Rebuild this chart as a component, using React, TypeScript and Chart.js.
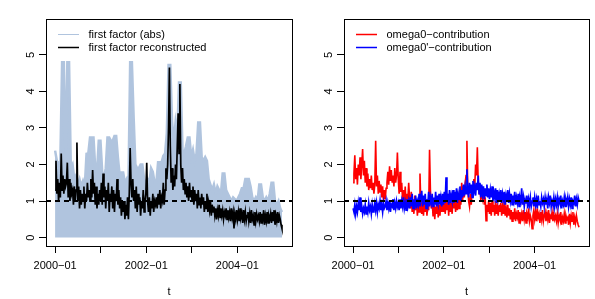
import React, { useEffect, useRef } from "react";
import { Chart, registerables } from "chart.js";

Chart.register(...registerables);

// ---- axes ----
const tickYears = [2000, 2001, 2002, 2003, 2004];
const tickYearLabels = ["2000−01", "", "2002−01", "", "2004−01"];
const yTickValues = [0, 1, 2, 3, 4, 5];
const refLevel = 1;

// ---- left panel: first factor (abs), biweekly envelope ----
const firstFactorAbs = [
  2.38, 2.1, 2.0, 2.1, 4.8, 4.8, 2.0, 4.8, 4.8, 1.9, 2.0, 1.6, 1.7,
  1.45, 1.6, 1.4, 1.55, 1.4, 2.29, 2.3, 2.74, 2.74, 2.74, 1.9, 1.8, 2.65,
  2.65, 1.8, 1.6, 1.9, 2.74, 2.74, 2.65, 2.65, 2.78, 2.78, 2.19, 1.7, 1.78,
  1.78, 1.5, 1.6, 1.4, 4.8, 4.8, 3.3, 2.0, 1.9, 1.9, 2.0, 2.0, 1.6,
  1.5, 1.6, 1.5, 1.9, 1.8, 1.5, 1.5, 2.06, 2.06, 2.06, 2.24, 2.3, 2.85,
  4.72, 4.72, 3.2, 2.6, 3.15, 2.8, 4.24, 4.24, 2.4, 2.3, 2.5, 2.74, 2.74,
  2.2, 2.4, 2.1, 2.3, 3.15, 3.15, 2.2, 2.1, 2.2, 2.1, 1.6, 1.45, 1.3,
  1.45, 1.2, 1.4, 1.3, 1.2, 1.75, 1.75, 1.3, 1.2, 1.1, 1.0, 1.1, 1.05,
  1.0, 1.1, 1.2, 1.35, 1.35, 1.6, 1.6, 1.6, 1.4, 1.1, 1.0, 1.1, 1.0,
  1.45, 1.45, 1.1, 1.0, 1.1, 1.0, 1.2, 1.5, 1.5, 1.0, 0.9, 1.0, 0.8, 0.7,
];

// ---- left panel: first factor reconstructed, weekly ----
const firstFactorRec = [
  1.3, 2.1, 1.2, 1.6, 1.0, 1.5, 1.1, 2.3, 1.3, 1.7, 1.2, 1.6, 1.4,
  1.5, 2.05, 1.1, 1.6, 1.0, 1.5, 1.2, 1.3, 0.9, 1.4, 1.0, 1.3, 2.6,
  1.0, 1.4, 0.8, 1.3, 0.9, 1.2, 1.0, 1.4, 0.8, 1.2, 1.0, 1.5, 1.1,
  1.3, 1.0, 1.6, 1.1, 1.85, 1.2, 1.5, 0.9, 1.4, 0.8, 1.2, 0.9, 1.3,
  1.0, 1.5, 0.9, 1.75, 1.1, 1.4, 0.8, 1.3, 1.0, 1.5, 0.7, 1.2, 1.0,
  1.4, 0.8, 1.3, 0.7, 1.2, 1.0, 1.6, 0.9, 1.3, 0.8, 1.1, 0.6, 1.0,
  0.7, 1.0, 0.5, 0.9, 0.6, 1.1, 0.5, 1.2, 2.45, 1.5, 1.1, 1.6, 1.0,
  1.3, 0.8, 1.4, 0.7, 1.2, 0.9, 1.1, 0.6, 1.0, 0.8, 1.3, 0.7, 1.0,
  1.2, 2.05, 1.0, 0.7, 1.1, 0.6, 1.0, 0.8, 1.2, 0.7, 1.0, 0.9, 1.1,
  0.8, 1.2, 0.9, 1.3, 0.8, 1.1, 1.0, 1.5, 0.9, 1.3, 1.9, 1.6, 2.0,
  3.0, 4.65, 2.5, 1.5, 1.9, 1.3, 1.7, 1.4, 2.0, 1.6, 2.5, 3.4, 2.3,
  4.2, 2.0, 1.5, 1.9, 1.3, 1.6, 1.2, 1.5, 1.1, 1.4, 1.0, 1.5, 1.1,
  1.3, 1.0, 1.4, 0.9, 1.3, 1.0, 1.2, 0.8, 1.3, 0.9, 1.1, 0.8, 1.2,
  0.9, 1.1, 0.7, 1.0, 0.8, 1.2, 0.7, 0.95, 0.75, 1.0, 0.6, 0.9, 0.7,
  0.85, 0.6, 0.8, 0.5, 0.75, 0.6, 0.9, 0.55, 0.8, 0.6, 0.75, 0.5, 0.7,
  0.6, 0.8, 0.5, 0.75, 0.55, 0.7, 0.45, 0.8, 0.55, 0.7, 0.25, 0.65, 0.5,
  0.75, 0.5, 0.7, 0.45, 0.8, 0.55, 0.65, 0.4, 0.75, 0.5, 0.7, 0.45, 0.6,
  0.7, 0.45, 0.65, 0.4, 0.75, 0.5, 0.6, 0.35, 0.7, 0.45, 0.65, 0.5, 0.6,
  0.45, 0.7, 0.4, 0.65, 0.5, 0.75, 0.35, 0.6, 0.45, 0.7, 0.4, 0.6, 0.5,
  0.65, 0.4, 0.7, 0.45, 0.75, 0.35, 0.6, 0.45, 0.7, 0.4, 0.6, 0.5, 0.35, 0.25,
];

// ---- right panel: omega0-contribution, weekly ----
const omega0Contribution = [
  1.5, 1.75, 2.25, 1.6, 1.9, 1.45, 2.0, 1.7, 2.2, 1.6, 2.0, 2.42, 1.7,
  2.1, 1.5, 1.9, 1.4, 1.75, 1.3, 1.6, 1.35, 1.7, 1.3, 1.5, 1.2, 1.45,
  2.65, 1.4, 1.7, 1.2, 1.55, 1.25, 1.45, 1.1, 1.4, 1.0, 1.3, 1.05, 1.35,
  1.5, 1.8, 1.45, 1.95, 1.55, 1.85, 1.5, 1.7, 1.4, 1.9, 1.5, 1.7, 2.33,
  1.6, 1.2, 1.8, 1.25, 1.5, 1.0, 1.3, 0.9, 1.4, 0.85, 1.2, 1.0, 1.5,
  1.1, 0.8, 1.25, 0.7, 1.0, 0.65, 1.15, 0.75, 1.0, 0.6, 0.9, 0.7, 1.75,
  0.9, 0.65, 1.0, 0.6, 0.95, 0.7, 1.05, 0.6, 0.9, 0.75, 2.4, 1.3, 0.8,
  1.0, 0.6, 0.9, 0.5, 0.85, 0.65, 1.0, 0.55, 0.9, 0.6, 1.05, 0.7, 0.95,
  0.7, 1.15, 0.65, 1.0, 0.75, 1.2, 0.6, 1.05, 0.7, 0.95, 0.65, 1.1, 0.8,
  1.0, 0.7, 1.2, 0.75, 1.1, 0.8, 1.3, 0.9, 1.5, 1.0, 1.4, 1.1, 1.5,
  1.7, 2.65, 1.3, 1.0, 0.85, 1.2, 0.9, 1.3, 1.1, 1.6, 1.4, 2.0, 1.7,
  2.47, 1.5, 1.2, 1.45, 1.0, 1.35, 1.1, 1.3, 0.9, 1.1, 0.46, 0.9, 0.7,
  1.0, 0.65, 0.95, 0.6, 1.0, 0.7, 0.9, 0.6, 1.0, 0.65, 0.85, 0.6, 0.9,
  0.7, 0.95, 0.6, 0.85, 0.65, 1.0, 0.6, 0.8, 0.55, 0.9, 0.6, 0.8, 0.5,
  0.75, 0.45, 0.7, 0.5, 0.8, 0.45, 0.65, 0.55, 0.75, 0.4, 0.7, 0.5, 0.65,
  0.45, 0.75, 0.5, 0.7, 0.4, 0.65, 0.55, 0.8, 0.45, 0.6, 0.5, 0.24, 0.6,
  0.75, 0.5, 0.7, 0.45, 0.8, 0.55, 0.65, 0.4, 0.7, 0.5, 0.75, 0.45, 0.6,
  0.7, 0.45, 0.65, 0.5, 0.75, 0.4, 0.6, 0.55, 0.7, 0.45, 0.65, 0.5, 0.6,
  0.45, 0.65, 0.4, 0.6, 0.5, 0.7, 0.35, 0.55, 0.45, 0.65, 0.4, 0.6, 0.5,
  0.55, 0.35, 0.65, 0.4, 0.6, 0.45, 0.7, 0.35, 0.55, 0.4, 0.6, 0.45, 0.35, 0.28,
];

// ---- right panel: omega0'-contribution, weekly ----
const omega0PrimeContribution = [
  0.8, 0.7, 0.9, 0.65, 0.85, 0.7, 0.95, 0.75, 1.1, 0.7, 0.85, 0.65, 0.8,
  0.7, 0.9, 0.65, 0.85, 0.7, 0.95, 0.75, 0.85, 0.65, 0.9, 0.7, 0.8, 0.95,
  0.75, 0.95, 0.7, 0.9, 0.8, 1.0, 0.75, 0.9, 0.7, 0.95, 0.8, 0.85, 1.0,
  0.75, 0.95, 0.8, 1.0, 0.7, 0.9, 0.85, 1.05, 0.75, 0.95, 0.8, 1.0, 0.85,
  0.95, 0.75, 1.05, 0.8, 1.0, 0.85, 1.1, 0.8, 0.95, 0.75, 1.05, 0.85, 1.0,
  0.8, 1.1, 0.85, 1.2, 0.8, 1.05, 0.9, 1.15, 0.8, 1.0, 0.9, 1.2, 0.85,
  1.1, 1.28, 0.85, 1.15, 0.9, 1.2, 0.8, 1.05, 0.9, 1.25, 0.85, 1.1, 0.95,
  1.2, 0.85, 1.1, 0.9, 1.25, 0.85, 1.15, 0.95, 1.2, 0.9, 1.1, 0.85, 1.2,
  0.9, 1.25, 0.95, 1.65, 1.0, 1.2, 0.9, 1.3, 0.95, 1.15, 1.0, 1.3, 0.95,
  1.25, 1.0, 1.35, 0.95, 1.2, 1.05, 1.4, 1.0, 1.3, 1.1, 1.45, 1.15, 1.4,
  1.2, 1.87, 1.3, 1.1, 1.5, 1.2, 1.45, 1.1, 1.55, 1.25, 1.4, 1.15, 1.5,
  1.3, 1.7, 1.2, 1.5, 1.1, 1.45, 1.2, 1.4, 1.05, 1.35, 1.15, 1.45, 1.1,
  1.35, 1.05, 1.3, 1.1, 1.4, 1.0, 1.25, 1.1, 1.35, 0.95, 1.3, 1.05, 1.2,
  1.0, 1.3, 0.95, 1.2, 1.05, 1.25, 0.9, 1.15, 1.0, 1.3, 0.95, 1.2, 1.0,
  1.2, 0.9, 1.15, 1.0, 1.25, 0.9, 1.1, 0.95, 1.2, 0.85, 1.1, 1.0, 1.35,
  0.9, 1.1, 0.85, 1.05, 0.95, 1.15, 0.8, 1.05, 0.9, 1.1, 0.85, 1.0, 1.1,
  0.85, 1.1, 0.9, 1.05, 0.8, 1.15, 0.9, 1.0, 0.85, 1.1, 0.95, 1.05, 0.85,
  1.1, 0.9, 1.05, 0.8, 1.1, 0.95, 1.15, 0.85, 1.0, 0.9, 1.1, 0.85, 1.05,
  0.9, 1.1, 0.85, 1.05, 0.95, 1.15, 0.8, 1.0, 0.9, 1.1, 0.85, 1.05, 0.95,
  1.1, 0.85, 1.05, 0.9, 1.1, 0.8, 1.0, 0.95, 1.15, 0.85, 1.05, 0.9, 1.1, 1.0,
];

const SERIES_START = 2000.0;
const SERIES_END = 2004.98;
const X_MIN = 1999.8;
const X_MAX = 2005.2;
const Y_MIN = -0.23;
const Y_MAX = 5.98;

const FONT = "'Liberation Sans', Arial, Helvetica, sans-serif";

function toPoints(vals: number[]) {
  const n = vals.length;
  return vals.map((v, i) => ({
    x: SERIES_START + (i * (SERIES_END - SERIES_START)) / (n - 1),
    y: v,
  }));
}

type LegendItem = { label: string; color: string; width: number };

function makeFramePlugin(items: LegendItem[]) {
  return {
    id: "frameAndLegend",
    afterDatasetsDraw(chart: any) {
      const { ctx, chartArea: a, scales } = chart;
      // dashed reference line at 1
      const yRef = scales.y.getPixelForValue(refLevel);
      ctx.save();
      ctx.beginPath();
      ctx.rect(a.left, a.top, a.right - a.left, a.bottom - a.top);
      ctx.clip();
      ctx.setLineDash([5, 4]);
      ctx.lineWidth = 2;
      ctx.strokeStyle = "#000";
      ctx.beginPath();
      ctx.moveTo(a.left, yRef);
      ctx.lineTo(a.right, yRef);
      ctx.stroke();
      ctx.restore();

      // box
      ctx.save();
      ctx.strokeStyle = "#000";
      ctx.lineWidth = 1;
      ctx.strokeRect(a.left + 0.5, a.top + 0.5, a.right - a.left, a.bottom - a.top);
      ctx.restore();

      // legend (no frame)
      ctx.save();
      ctx.font = `11px ${FONT}`;
      ctx.textBaseline = "middle";
      ctx.textAlign = "left";
      items.forEach((it, k) => {
        const y = a.top + 15.5 + k * 13;
        ctx.strokeStyle = it.color;
        ctx.lineWidth = it.width;
        ctx.beginPath();
        ctx.moveTo(a.left + 12, y);
        ctx.lineTo(a.left + 33, y);
        ctx.stroke();
        ctx.fillStyle = "#000";
        ctx.fillText(it.label, a.left + 42.5, y);
      });
      ctx.restore();
    },
  };
}

function makeOptions(yAxisWidth: number, padRight: number): any {
  return {
    responsive: false,
    animation: false,
    devicePixelRatio: 1,
    events: [],
    layout: { padding: { left: 0, top: 19, right: padRight, bottom: 0 } },
    plugins: {
      legend: { display: false },
      tooltip: { enabled: false },
      title: { display: false },
    },
    elements: { point: { radius: 0 }, line: { tension: 0 } },
    scales: {
      x: {
        type: "linear",
        min: X_MIN,
        max: X_MAX,
        afterBuildTicks: (s: any) => {
          s.ticks = tickYears.map((v) => ({ value: v }));
        },
        afterFit: (s: any) => {
          s.height = 53;
        },
        grid: {
          drawOnChartArea: false,
          drawTicks: true,
          tickLength: 7,
          color: "#000",
          lineWidth: 1,
        },
        border: { display: false },
        ticks: {
          autoSkip: false,
          minRotation: 0,
          maxRotation: 0,
          padding: 6,
          color: "#000",
          font: { family: FONT, size: 11 },
          callback: (v: number) => {
            const idx = tickYears.indexOf(Math.round(v));
            return idx >= 0 ? tickYearLabels[idx] : "";
          },
        },
        title: {
          display: true,
          text: "t",
          color: "#000",
          font: { family: FONT, size: 11 },
          padding: { top: 0, bottom: 0 },
        },
      },
      y: {
        type: "linear",
        min: Y_MIN,
        max: Y_MAX,
        afterBuildTicks: (s: any) => {
          s.ticks = yTickValues.map((v) => ({ value: v }));
        },
        afterFit: (s: any) => {
          s.width = yAxisWidth;
        },
        grid: {
          drawOnChartArea: false,
          drawTicks: true,
          tickLength: 7,
          color: "#000",
          lineWidth: 1,
        },
        border: { display: false },
        ticks: {
          autoSkip: false,
          minRotation: 90,
          maxRotation: 90,
          crossAlign: "center",
          padding: 5,
          color: "#000",
          font: { family: FONT, size: 11 },
          callback: (v: number) => String(v),
        },
      },
    },
  };
}

function Panel(props: {
  left: number;
  width: number;
  yAxisWidth: number;
  padRight: number;
  datasets: any[];
  legend: LegendItem[];
}) {
  const ref = useRef<HTMLCanvasElement | null>(null);
  useEffect(() => {
    if (!ref.current) return;
    const chart = new Chart(ref.current, {
      type: "line",
      data: { datasets: props.datasets },
      options: makeOptions(props.yAxisWidth, props.padRight),
      plugins: [makeFramePlugin(props.legend)],
    });
    return () => chart.destroy();
  }, []);
  return (
    <canvas
      ref={ref}
      width={props.width}
      height={299}
      style={{ position: "absolute", left: props.left, top: 0, width: props.width, height: 299 }}
    />
  );
}

export default function App() {
  const leftDatasets = [
    {
      label: "first factor reconstructed",
      data: toPoints(firstFactorRec),
      borderColor: "#000000",
      borderWidth: 1.7,
      pointRadius: 0,
      fill: false,
    },
    {
      label: "first factor (abs)",
      data: toPoints(firstFactorAbs),
      borderColor: "#B0C4DE",
      backgroundColor: "#B0C4DE",
      borderWidth: 2.5,
      pointRadius: 0,
      fill: "origin",
    },
  ];
  const rightDatasets = [
    {
      label: "omega0'−contribution",
      data: toPoints(omega0PrimeContribution),
      borderColor: "#0000FF",
      borderWidth: 1.7,
      pointRadius: 0,
      fill: false,
    },
    {
      label: "omega0−contribution",
      data: toPoints(omega0Contribution),
      borderColor: "#FF0000",
      borderWidth: 1.6,
      pointRadius: 0,
      fill: false,
    },
  ];
  return (
    <div style={{ position: "absolute", left: 0, top: 0, width: 595, height: 299, background: "#fff" }}>
      <Panel
        left={0}
        width={297}
        yAxisWidth={46}
        padRight={5}
        datasets={leftDatasets}
        legend={[
          { label: "first factor (abs)", color: "#B0C4DE", width: 1 },
          { label: "first factor reconstructed", color: "#000000", width: 1.5 },
        ]}
      />
      <Panel
        left={297}
        width={298}
        yAxisWidth={47}
        padRight={6}
        datasets={rightDatasets}
        legend={[
          { label: "omega0−contribution", color: "#FF0000", width: 1.5 },
          { label: "omega0'−contribution", color: "#0000FF", width: 1.5 },
        ]}
      />
    </div>
  );
}
